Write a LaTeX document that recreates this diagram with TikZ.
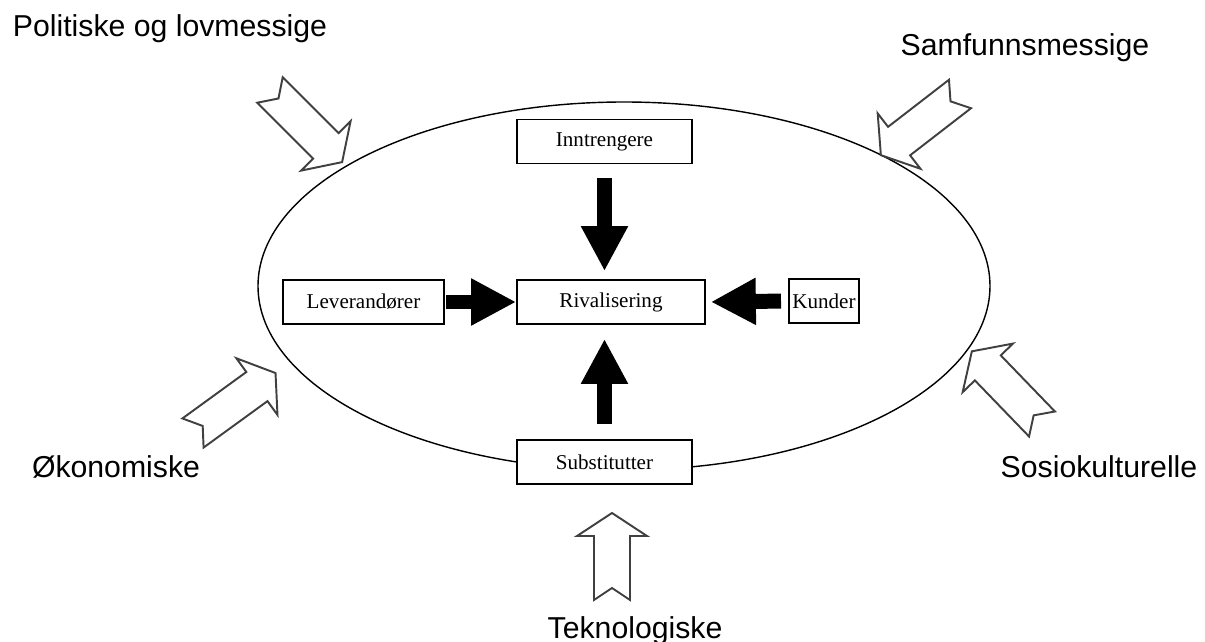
\documentclass[tikz,border=0pt]{standalone}
\usepackage{fontspec}
\setmainfont{Liberation Serif}
\newfontfamily\labelfont{Liberation Sans}
\usepackage{tikz}
\usetikzlibrary{arrows.meta}

\tikzset{
  force/.style={draw, line width=1pt, fill=white, inner xsep=2pt, inner ysep=1pt,
    minimum height=0.88cm, font=\fontsize{12}{14}\selectfont},
  push/.style={line width=0.3cm, -{Triangle[width=0.88cm, length=0.9cm]}},
  outline/.style={draw=black!75, line width=1.1pt, fill=white, line join=miter},
  factor/.style={font=\labelfont\fontsize{17.2}{20}\selectfont, anchor=base},
  pics/hollowarrow/.style={code={
    \draw[outline] (0,-18) -- (12,0) -- (0,18) -- (#1-23,18) -- (#1-23,35)
      -- (#1,0) -- (#1-23,-35) -- (#1-23,-18) -- cycle;}}
}

\begin{document}
\begin{tikzpicture}[x=0.02cm, y=-0.02cm]
                        \useasboundingbox (0,0) rectangle (1205,642);
                        \draw[line width=0.8pt] (624,286) ellipse [x radius=366, y radius=184];
                        % the five forces
                        \node[force, minimum width=3.5cm] (inn) at (604.5,141.5) {Inntrengere};
                        \node[force, minimum width=3.76cm] (riv) at (611,302) {Rivalisering};
                        \node[force, minimum width=3.22cm] (lev) at (363.5,302) {Leverandører};
                        \node[force, minimum width=1.04cm] (kun) at (824,301) {Kunder};
                        \node[force, minimum width=3.5cm] (sub) at (604.5,462) {Substitutter};
                        \draw[push, shorten <=0.28cm, shorten >=0.16cm] (inn.south) -- (inn.south |- riv.north);
                        \draw[push, shorten <=0.3cm, shorten >=0.28cm] (sub.north) -- (sub.north |- riv.south);
                        \draw[push, shorten <=0.02cm] (lev.east) -- (riv.west);
                        \draw[push, shorten <=0.14cm, shorten >=0.1cm] (kun.west) -- (riv.east);
                        % outer factors
                        \node[factor] (pol) at (170,37) {Politiske og lovmessige};
                        \node[factor] (sam) at (1025,56) {Samfunnsmessige};
                        \node[factor] (oko) at (116,477) {Økonomiske};
                        \node[factor] (sos) at (1099,477) {Sosiokulturelle};
                        \node[factor] (tek) at (635,638) {Teknologiske};
                        \pic[rotate=-45] at (270,90) {hollowarrow=102};
                        \pic[rotate=-142.3] at (960,94) {hollowarrow=100};
                        \pic[rotate=36] at (193,433) {hollowarrow=102};
                        \pic[rotate=134] at (1042,424) {hollowarrow=101};
                        \pic[rotate=90] at (612,600) {hollowarrow=87};
                    \end{tikzpicture}
\end{document}
